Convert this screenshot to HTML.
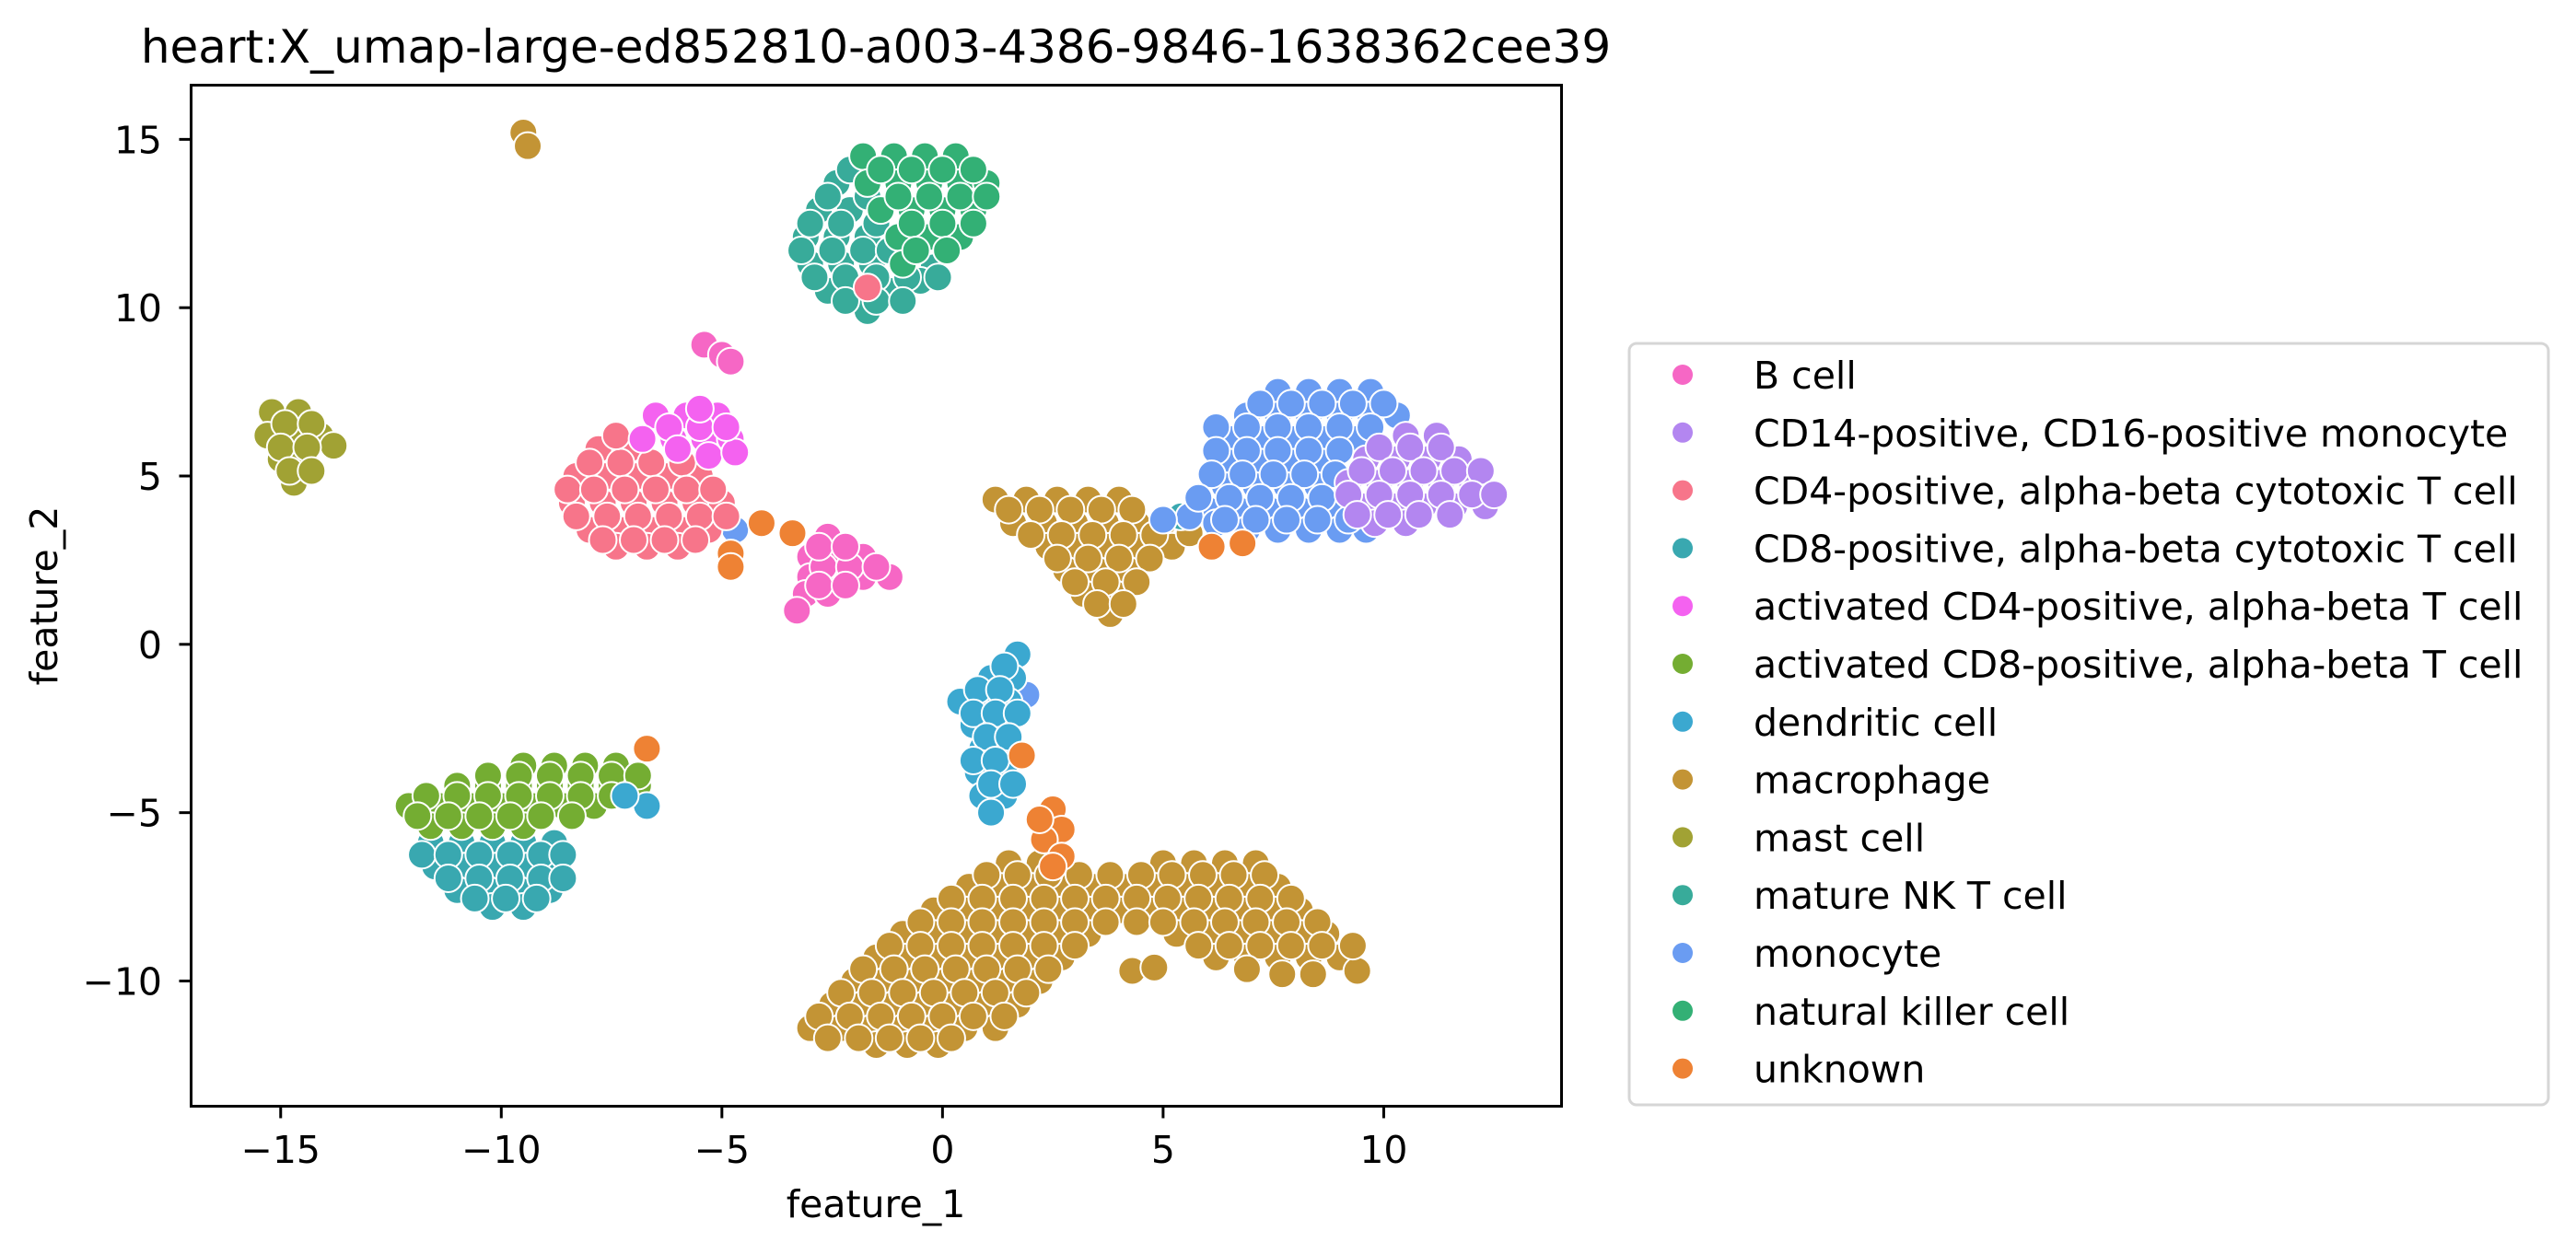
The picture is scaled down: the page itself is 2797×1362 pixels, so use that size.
<!DOCTYPE html>
<html><head><meta charset="utf-8"><style>
html,body{margin:0;padding:0;background:#fff;}
svg{display:block;font-family:"DejaVu Sans","Liberation Sans",sans-serif;}
</style></head><body>
<svg id="chart" width="2797" height="1362" viewBox="0 0 2797 1362" xmlns="http://www.w3.org/2000/svg">
<rect x="0" y="0" width="2797" height="1362" fill="#fff"/>
<text x="951" y="68" font-size="50" text-anchor="middle" fill="#000">heart:X_umap-large-ed852810-a003-4386-9846-1638362cee39</text>
<g id="points"></g>
<rect x="207.5" y="92.5" width="1488" height="1109" fill="none" stroke="#000" stroke-width="3"/>
<g id="xticks"></g>
<g id="yticks"></g>
<text x="951" y="1322" font-size="41" text-anchor="middle">feature_1</text>
<text x="0" y="0" font-size="41" text-anchor="middle" transform="translate(62,647) rotate(-90)">feature_2</text>
<g id="legend">
<rect x="1769" y="373" width="998" height="827" rx="8" fill="#fff" stroke="#d6d6d6" stroke-width="3"/>
</g>
</svg>
<script>
const categories=["B cell","CD14-positive, CD16-positive monocyte","CD4-positive, alpha-beta cytotoxic T cell","CD8-positive, alpha-beta cytotoxic T cell","activated CD4-positive, alpha-beta T cell","activated CD8-positive, alpha-beta T cell","dendritic cell","macrophage","mast cell","mature NK T cell","monocyte","natural killer cell","unknown"];
const colors=["#f667c5","#b386f0","#f7758a","#39a8b0","#f462f0","#74ad32","#3ba8d0","#c39435","#a1a234","#38ab9a","#6a9cf2","#33b075","#ee8234"];
const xTicks=[-15,-10,-5,0,5,10];
const yTicks=[-10,-5,0,5,10,15];
const ptsMacrophage=[[-9.5,15.2],[-9.4,14.8],
[1.2,4.3],[1.9,4.3],[2.6,4.3],[3.3,4.3],[4.0,4.3],[1.6,3.6],[2.3,3.6],[3.0,3.6],[3.7,3.6],[4.4,3.6],[5.0,3.6],[2.4,2.9],[3.1,2.9],[3.8,2.9],[4.5,2.9],[5.2,2.9],[2.8,2.2],[3.5,2.2],[4.2,2.2],[3.2,1.5],[3.9,1.5],[3.8,0.9],
[1.5,4.0],[2.2,4.0],[2.9,4.0],[3.6,4.0],[4.3,4.0],[2.0,3.25],[2.7,3.25],[3.4,3.25],[4.1,3.25],[4.8,3.25],[5.6,3.3],[2.6,2.55],[3.3,2.55],[4.0,2.55],[4.7,2.55],[3.0,1.85],[3.7,1.85],[4.4,1.85],[3.5,1.2],[4.1,1.2],
[1.5,-6.5],[2.2,-6.5],[5.0,-6.5],[5.7,-6.5],[6.4,-6.5],[7.1,-6.5],
[0.6,-7.2],[1.3,-7.2],[2.0,-7.2],[2.7,-7.2],[3.4,-7.2],[4.1,-7.2],[4.8,-7.2],[5.5,-7.2],[6.2,-7.2],[6.9,-7.2],[7.6,-7.2],
[-0.2,-7.9],[0.5,-7.9],[1.2,-7.9],[1.9,-7.9],[2.6,-7.9],[3.3,-7.9],[4.0,-7.9],[4.7,-7.9],[5.4,-7.9],[6.1,-7.9],[6.8,-7.9],[7.5,-7.9],[8.1,-7.9],
[-0.9,-8.6],[-0.2,-8.6],[0.5,-8.6],[1.2,-8.6],[1.9,-8.6],[2.6,-8.6],[3.3,-8.6],[5.3,-8.6],[6.0,-8.6],[6.7,-8.6],[7.4,-8.6],[8.1,-8.6],[8.7,-8.6],
[-1.5,-9.3],[-0.8,-9.3],[-0.1,-9.3],[0.6,-9.3],[1.3,-9.3],[2.0,-9.3],[2.7,-9.3],[6.2,-9.3],[6.9,-9.3],[7.6,-9.3],[8.3,-9.3],[9.0,-9.3],
[4.3,-9.7],[4.8,-9.6],[7.7,-9.8],[8.4,-9.8],[9.4,-9.7],
[-2.0,-10.0],[-1.3,-10.0],[-0.6,-10.0],[0.1,-10.0],[0.8,-10.0],[1.5,-10.0],[2.2,-10.0],
[-2.5,-10.7],[-1.8,-10.7],[-1.1,-10.7],[-0.4,-10.7],[0.3,-10.7],[1.0,-10.7],[1.7,-10.7],
[-3.0,-11.4],[-2.3,-11.4],[-1.6,-11.4],[-0.9,-11.4],[-0.2,-11.4],[0.5,-11.4],[1.2,-11.4],[-1.5,-11.9],[-0.8,-11.9],[-0.1,-11.9],
[1.0,-6.85],[1.7,-6.85],[2.4,-6.85],[3.1,-6.85],[3.8,-6.85],[4.5,-6.85],[5.2,-6.85],[5.9,-6.85],[6.6,-6.85],[7.3,-6.85],
[0.2,-7.55],[0.9,-7.55],[1.6,-7.55],[2.3,-7.55],[3.0,-7.55],[3.7,-7.55],[4.4,-7.55],[5.1,-7.55],[5.8,-7.55],[6.5,-7.55],[7.2,-7.55],[7.9,-7.55],
[-0.5,-8.25],[0.2,-8.25],[0.9,-8.25],[1.6,-8.25],[2.3,-8.25],[3.0,-8.25],[3.7,-8.25],[4.4,-8.25],[5.0,-8.25],[5.7,-8.25],[6.4,-8.25],[7.1,-8.25],[7.8,-8.25],[8.5,-8.25],
[-1.2,-8.95],[-0.5,-8.95],[0.2,-8.95],[0.9,-8.95],[1.6,-8.95],[2.3,-8.95],[3.0,-8.95],[5.8,-8.95],[6.5,-8.95],[7.2,-8.95],[7.9,-8.95],[8.6,-8.95],[9.3,-8.95],
[-1.8,-9.65],[-1.1,-9.65],[-0.4,-9.65],[0.3,-9.65],[1.0,-9.65],[1.7,-9.65],[2.4,-9.65],[6.9,-9.65],
[-2.3,-10.35],[-1.6,-10.35],[-0.9,-10.35],[-0.2,-10.35],[0.5,-10.35],[1.2,-10.35],[1.9,-10.35],
[-2.8,-11.05],[-2.1,-11.05],[-1.4,-11.05],[-0.7,-11.05],[0,-11.05],[0.7,-11.05],[1.4,-11.05],
[-2.6,-11.7],[-1.9,-11.7],[-1.2,-11.7],[-0.5,-11.7],[0.2,-11.7]];
const ptsCD8=[[-11.6,-5.9],[-10.9,-5.9],[-10.2,-5.9],[-9.5,-5.9],[-8.8,-5.9],[-11.5,-6.6],[-10.8,-6.6],[-10.1,-6.6],[-9.4,-6.6],[-8.7,-6.6],[-11.0,-7.3],[-10.3,-7.3],[-9.6,-7.3],[-8.9,-7.3],[-10.2,-7.8],[-9.5,-7.8],[5.4,3.8],
[-11.8,-6.25],[-11.2,-6.25],[-10.5,-6.25],[-9.8,-6.25],[-9.1,-6.25],[-8.6,-6.25],[-11.2,-6.95],[-10.5,-6.95],[-9.8,-6.95],[-9.1,-6.95],[-8.6,-6.95],[-10.6,-7.55],[-9.9,-7.55],[-9.2,-7.55]];
const ptsActCD8=[[-9.5,-3.6],[-8.8,-3.6],[-8.1,-3.6],[-7.4,-3.6],[-11.0,-4.2],[-10.3,-4.2],[-9.6,-4.2],[-8.9,-4.2],[-8.2,-4.2],[-7.5,-4.2],[-6.9,-4.2],[-12.1,-4.8],[-11.4,-4.8],[-10.7,-4.8],[-10.0,-4.8],[-9.3,-4.8],[-8.6,-4.8],[-7.9,-4.8],[-11.6,-5.4],[-10.9,-5.4],[-10.2,-5.4],[-9.5,-5.4],
[-10.3,-3.9],[-9.6,-3.9],[-8.9,-3.9],[-8.2,-3.9],[-7.5,-3.9],[-6.9,-3.9],[-11.7,-4.5],[-11.0,-4.5],[-10.3,-4.5],[-9.6,-4.5],[-8.9,-4.5],[-8.2,-4.5],[-7.5,-4.5],[-11.9,-5.1],[-11.2,-5.1],[-10.5,-5.1],[-9.8,-5.1],[-9.1,-5.1],[-8.4,-5.1]];
const ptsMonocyte=[[7.6,7.5],[8.3,7.5],[9.0,7.5],[9.7,7.5],[6.9,6.8],[7.6,6.8],[8.3,6.8],[9.0,6.8],[9.7,6.8],[10.3,6.8],[6.6,6.1],[7.3,6.1],[8.0,6.1],[8.7,6.1],[9.4,6.1],[6.5,5.4],[7.2,5.4],[7.9,5.4],[8.6,5.4],[6.4,4.7],[7.1,4.7],[7.8,4.7],[8.5,4.7],[6.0,4.0],[6.7,4.0],[7.4,4.0],[8.1,4.0],[8.8,4.0],[6.9,3.4],[7.6,3.4],[8.3,3.4],[9.0,3.4],[9.6,3.4],[5.6,3.8],[6.2,3.6],[-4.7,3.4],[1.9,-1.5],
[7.2,7.15],[7.9,7.15],[8.6,7.15],[9.3,7.15],[10.0,7.15],[6.2,6.45],[6.9,6.45],[7.6,6.45],[8.3,6.45],[9.0,6.45],[9.7,6.45],[6.2,5.75],[6.9,5.75],[7.6,5.75],[8.3,5.75],[9.0,5.75],[6.1,5.05],[6.8,5.05],[7.5,5.05],[8.2,5.05],[8.9,5.05],[5.8,4.35],[6.5,4.35],[7.2,4.35],[7.9,4.35],[8.6,4.35],[5.0,3.7],[6.4,3.7],[7.1,3.7],[7.8,3.7],[8.5,3.7],[9.2,3.7]];
const ptsCD14=[[10.5,6.2],[11.2,6.2],[9.6,5.5],[10.3,5.5],[11.0,5.5],[11.7,5.5],[9.2,4.8],[9.9,4.8],[10.6,4.8],[11.3,4.8],[12.0,4.8],[9.5,4.1],[10.2,4.1],[10.9,4.1],[11.6,4.1],[12.3,4.1],[9.8,3.6],[10.5,3.6],
[9.9,5.85],[10.6,5.85],[11.3,5.85],[9.5,5.15],[10.2,5.15],[10.9,5.15],[11.6,5.15],[12.2,5.15],[9.2,4.45],[9.9,4.45],[10.6,4.45],[11.3,4.45],[12.0,4.45],[12.5,4.45],[9.4,3.85],[10.1,3.85],[10.8,3.85],[11.5,3.85]];
const ptsMatureNK=[[-2.4,13.7],[-2.8,12.9],[-2.1,12.9],[-3.1,12.1],[-2.4,12.1],[-1.7,12.1],[-3.0,11.3],[-2.3,11.3],[-1.6,11.3],[-0.2,11.2],[-2.6,10.5],[-1.9,10.5],[-1.2,10.5],[-0.5,10.8],[-1.7,9.9],
[-2.1,14.1],[-2.6,13.3],[-1.7,13.3],[-3.0,12.5],[-2.3,12.5],[-1.5,12.5],[-3.2,11.7],[-2.5,11.7],[-1.8,11.7],[-1.2,11.7],[-2.9,10.9],[-2.2,10.9],[-1.5,10.9],[-0.8,10.9],[-0.1,10.9],[-2.2,10.2],[-1.5,10.2],[-0.9,10.2]];
const ptsNK=[[-1.8,14.5],[-1.1,14.5],[-0.4,14.5],[0.3,14.5],[-1.7,13.7],[-1.0,13.7],[-0.3,13.7],[0.4,13.7],[1.0,13.7],[-1.4,12.9],[-0.7,12.9],[0,12.9],[0.7,12.9],[-1.0,12.1],[-0.3,12.1],[0.4,12.1],[-0.9,11.3],
[-1.4,14.1],[-0.7,14.1],[0,14.1],[0.7,14.1],[-1.0,13.3],[-0.3,13.3],[0.4,13.3],[1.0,13.3],[-0.7,12.5],[0,12.5],[0.7,12.5],[-0.6,11.7],[0.1,11.7]];
const ptsCD4=[[-7.8,5.8],[-7.1,5.8],[-8.3,5.0],[-7.6,5.0],[-6.9,5.0],[-6.2,5.0],[-5.5,5.0],[-8.4,4.2],[-7.7,4.2],[-7.0,4.2],[-6.3,4.2],[-5.6,4.2],[-5.0,4.2],[-8.0,3.4],[-7.3,3.4],[-6.6,3.4],[-5.9,3.4],[-5.3,3.4],[-7.4,2.9],[-6.7,2.9],[-6.0,2.9],[-1.7,10.6],
[-8.0,5.4],[-7.3,5.4],[-6.6,5.4],[-5.9,5.4],[-8.5,4.6],[-7.9,4.6],[-7.2,4.6],[-6.5,4.6],[-5.8,4.6],[-5.2,4.6],[-8.3,3.8],[-7.6,3.8],[-6.9,3.8],[-6.2,3.8],[-5.5,3.8],[-4.9,3.8],[-7.7,3.1],[-7.0,3.1],[-6.3,3.1],[-5.6,3.1],[-7.4,6.2]];
const ptsActCD4=[[-6.5,6.8],[-5.8,6.8],[-5.1,6.8],[-6.8,6.1],[-6.1,6.1],[-5.4,6.1],[-4.8,6.1],[-5.3,5.6],[-4.7,5.7],[1.1,-1.0],[-6.2,6.45],[-5.5,6.45],[-4.9,6.45],[-5.5,7.0],[-6.0,5.8]];
const ptsB=[[-5.4,8.9],[-5.0,8.6],[-4.8,8.4],[-2.6,3.2],[-3.0,2.6],[-2.4,2.6],[-1.8,2.6],[-3.0,2.0],[-2.4,2.0],[-1.8,2.0],[-1.2,2.0],[-3.1,1.5],[-2.6,1.5],[-3.3,1.0],[-2.7,2.3],[-2.1,2.3],[-1.5,2.3],[-2.8,1.75],[-2.2,1.75],[-2.8,2.9],[-2.2,2.9]];
const ptsMast=[[-15.2,6.9],[-14.6,6.9],[-15.3,6.2],[-14.7,6.2],[-14.1,6.2],[-15.0,5.5],[-14.5,5.5],[-14.7,4.8],[-13.8,5.9],[-14.9,6.55],[-14.3,6.55],[-15.0,5.85],[-14.4,5.85],[-14.8,5.15],[-14.3,5.15]];
const ptsDendritic=[[1.7,-0.3],[1.1,-1.0],[1.6,-1.0],[0.4,-1.7],[1.0,-1.7],[1.5,-1.7],[0.7,-2.4],[1.3,-2.4],[0.9,-3.1],[1.5,-3.1],[0.8,-3.8],[1.4,-3.8],[0.9,-4.5],[1.4,-4.5],[1.1,-5.0],[-6.7,-4.8],[-7.2,-4.5],
[1.4,-0.65],[0.8,-1.35],[1.3,-1.35],[0.7,-2.05],[1.2,-2.05],[1.7,-2.05],[1.0,-2.75],[1.5,-2.75],[0.7,-3.45],[1.2,-3.45],[1.1,-4.15],[1.6,-4.15]];
const ptsUnknown=[[-4.8,2.7],[-4.8,2.3],[-4.1,3.6],[-3.4,3.3],[6.1,2.9],[6.8,3.0],[2.5,-4.9],[2.7,-5.5],[2.3,-5.8],[2.7,-6.3],[2.5,-6.6],[1.8,-3.3],[-6.7,-3.1],[2.2,-5.2]];
const drawOrder=[[7,ptsMacrophage],[3,ptsCD8],[5,ptsActCD8],[10,ptsMonocyte],[1,ptsCD14],[9,ptsMatureNK],[11,ptsNK],[2,ptsCD4],[4,ptsActCD4],[0,ptsB],[8,ptsMast],[6,ptsDendritic],[12,ptsUnknown]];

const NS="http://www.w3.org/2000/svg";
const X0=207.5,X1=1695.5,Y0=92.5,Y1=1201.5;
const xMin=-17.03,xMax=14.03,yMin=-13.72,yMax=16.61;
const sx=v=>X0+(v-xMin)/(xMax-xMin)*(X1-X0);
const sy=v=>Y1-(v-yMin)/(yMax-yMin)*(Y1-Y0);
function mk(tag,attrs,parent){const e=document.createElementNS(NS,tag);for(const k in attrs)e.setAttribute(k,attrs[k]);parent.appendChild(e);return e;}
const gp=document.getElementById('points');
drawOrder.forEach(([ci,arr])=>{
  arr.forEach(([x,y])=>{
    const c=mk('circle',{cx:sx(x),cy:sy(y),r:15,fill:colors[ci],stroke:'#fff','stroke-width':2},gp);
    
    
  });
});
const gx=document.getElementById('xticks');
xTicks.forEach(t=>{
  const l=mk('line',{x1:sx(t),x2:sx(t),y1:Y1,y2:Y1+13,stroke:'#000','stroke-width':3},gx);
  
  
  const tx=mk('text',{x:sx(t),y:1263,'font-size':41,'text-anchor':'middle'},gx);
  tx.textContent=t<0?'\u2212'+Math.abs(t):String(t);
  
  
});
const gy=document.getElementById('yticks');
yTicks.forEach(t=>{
  const l=mk('line',{x1:X0-13,x2:X0,y1:sy(t),y2:sy(t),stroke:'#000','stroke-width':3},gy);
  
  
  const tx=mk('text',{x:176,y:sy(t)+15,'font-size':41,'text-anchor':'end'},gy);
  tx.textContent=t<0?'\u2212'+Math.abs(t):String(t);
  
  
});
const gl=document.getElementById('legend');
categories.forEach((c,i)=>{
  const y=407+i*62.8;
  const m=mk('circle',{cx:1827,cy:y,r:11,fill:colors[i]},gl);
  
  
  const t=mk('text',{x:1904,y:y+15,'font-size':41},gl);
  t.textContent=c;
  
  
});
</script>
</body></html>
